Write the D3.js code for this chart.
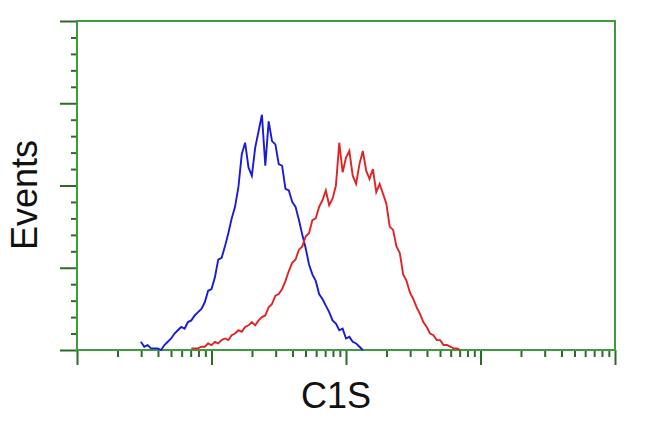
<!DOCTYPE html>
<html>
<head>
<meta charset="utf-8">
<script src="https://cdn.jsdelivr.net/npm/d3@7"></script>
<style>
  html, body { margin: 0; padding: 0; background: #ffffff; }
  svg { display: block; }
</style>
</head>
<body>
<svg id="chart" width="650" height="432"></svg>
<script>
// ---- data ----
const xLabel = "C1S";
const yLabel = "Events";
const xDomain = [1, 10000];
const yDomain = [0, 200];
const xMajorTicks = [1, 10, 100, 1000, 10000];
const xMinorTicks = [2,3,4,5,6,7,8,9, 20,30,40,50,60,70,80,90, 200,300,400,500,600,700,800,900, 2000,3000,4000,5000,6000,7000,8000,9000];
const yMajorTicks = [0, 50, 100, 150, 200];
const yMinorTicks = [10,20,30,40, 60,70,80,90, 110,120,130,140, 160,170,180,190];

// isotype control (blue)
const blueX = [2.985,3.162,3.350,3.548,3.758,3.981,4.217,4.467,4.732,5.012,5.309,5.623,5.957,6.310,6.683,7.079,7.499,7.943,8.414,8.913,9.441,
  10.00,10.59,11.22,11.89,12.59,13.34,14.13,14.96,15.85,16.79,17.78,18.84,19.95,21.13,22.39,23.71,25.12,26.61,28.18,29.85,
  31.62,33.50,35.48,37.58,39.81,42.17,44.67,47.32,50.12,53.09,56.23,59.57,63.10,66.83,70.79,74.99,79.43,84.14,89.13,94.41,
  100.0,105.9,112.2,118.9,125.9,133.4];
const blueY = [5,2,3,1,1,1,0,3,5,7,10,12,14,13,17,18,21,23,25,29,36,
  37,44,55,56,63,71,80,87,99,119,126,111,106,123,133,143,112,139,127,125,
  113,112,98,97,90,87,79,70,62,52,46,42,34,31,27,23,18,16,12,13,
  7,8,5,4,2,0];

// C1S stained (red)
const redX = [7.079,7.499,7.943,8.414,8.913,9.441,
  10.00,10.59,11.22,11.89,12.59,13.34,14.13,14.96,15.85,16.79,17.78,18.84,19.95,21.13,22.39,23.71,25.12,26.61,28.18,29.85,
  31.62,33.50,35.48,37.58,39.81,42.17,44.67,47.32,50.12,53.09,56.23,59.57,63.10,66.83,70.79,74.99,79.43,84.14,89.13,94.41,
  100.0,105.9,112.2,118.9,125.9,133.4,141.3,149.6,158.5,167.9,177.8,188.4,199.5,211.3,223.9,237.1,251.2,266.1,281.8,298.5,
  316.2,335.0,354.8,375.8,398.1,421.7,446.7,473.2,501.2,530.9,562.3,595.7,631.0,668.3,707.9];
const redY = [1,1,1,2,2,4,
  3,5,4,6,7,6,9,10,12,11,14,15,17,15,18,20,21,26,28,33,
  34,37,42,48,53,55,61,63,69,71,79,80,87,91,97,88,92,100,126,108,
  117,121,106,101,113,121,109,104,110,96,101,95,89,75,73,63,59,46,42,35,
  31,26,22,17,14,10,9,6,6,3,3,2,1,1,0];

// ---- drawing ----
const svg = d3.select("#chart");
const frameColor = "#3e9b3e";
const tickColor = "#2c6a2c";

const x = d3.scaleLog().domain(xDomain).range([77, 615]);
const y = d3.scaleLinear().domain(yDomain).range([350, 21]);

// y axis ticks
const gy = svg.append("g").attr("transform", `translate(${x(xDomain[0])},0)`);
gy.call(d3.axisLeft(y).tickValues(yMajorTicks).tickSize(17).tickFormat(""));
gy.call(g => g.select(".domain").remove());
gy.selectAll("line").attr("stroke", tickColor).attr("stroke-width", 2);
const gy2 = svg.append("g").attr("transform", `translate(${x(xDomain[0])},0)`);
gy2.call(d3.axisLeft(y).tickValues(yMinorTicks).tickSize(6).tickFormat(""));
gy2.call(g => g.select(".domain").remove());
gy2.selectAll("line").attr("stroke", tickColor).attr("stroke-width", 2);

// x axis ticks
const gx = svg.append("g").attr("transform", `translate(0,${y(0)})`);
gx.call(d3.axisBottom(x).tickValues(xMajorTicks).tickSize(15).tickFormat(""));
gx.call(g => g.select(".domain").remove());
gx.selectAll("line").attr("stroke", tickColor).attr("stroke-width", 2);
const gx2 = svg.append("g").attr("transform", `translate(0,${y(0)})`);
gx2.call(d3.axisBottom(x).tickValues(xMinorTicks).tickSize(7).tickFormat(""));
gx2.call(g => g.select(".domain").remove());
gx2.selectAll("line").attr("stroke", tickColor).attr("stroke-width", 2);

// frame
svg.append("rect")
  .attr("x", x(xDomain[0])).attr("y", y(yDomain[1]))
  .attr("width", x(xDomain[1]) - x(xDomain[0]))
  .attr("height", y(yDomain[0]) - y(yDomain[1]))
  .attr("fill", "none").attr("stroke", frameColor).attr("stroke-width", 2);

// curves
const line = d3.line().x(d => x(d[0])).y(d => y(d[1]));
svg.append("path")
  .datum(blueX.map((v, i) => [v, blueY[i]]))
  .attr("d", line).attr("fill", "none")
  .attr("stroke", "#1a1ad8").attr("stroke-width", 1.9);
svg.append("path")
  .datum(redX.map((v, i) => [v, redY[i]]))
  .attr("d", line).attr("fill", "none")
  .attr("stroke", "#e02424").attr("stroke-width", 1.9);

// labels
svg.append("text")
  .attr("x", (x(xDomain[0]) + x(xDomain[1])) / 2 - 10)
  .attr("y", 408)
  .attr("text-anchor", "middle")
  .attr("font-family", "Liberation Sans, Arial, sans-serif")
  .attr("font-size", 36)
  .attr("fill", "#111")
  .text(xLabel);
svg.append("text")
  .attr("transform", "translate(37,195) rotate(-90)")
  .attr("text-anchor", "middle")
  .attr("font-family", "Liberation Sans, Arial, sans-serif")
  .attr("font-size", 36)
  .attr("fill", "#111")
  .text(yLabel);
</script>
</body>
</html>
